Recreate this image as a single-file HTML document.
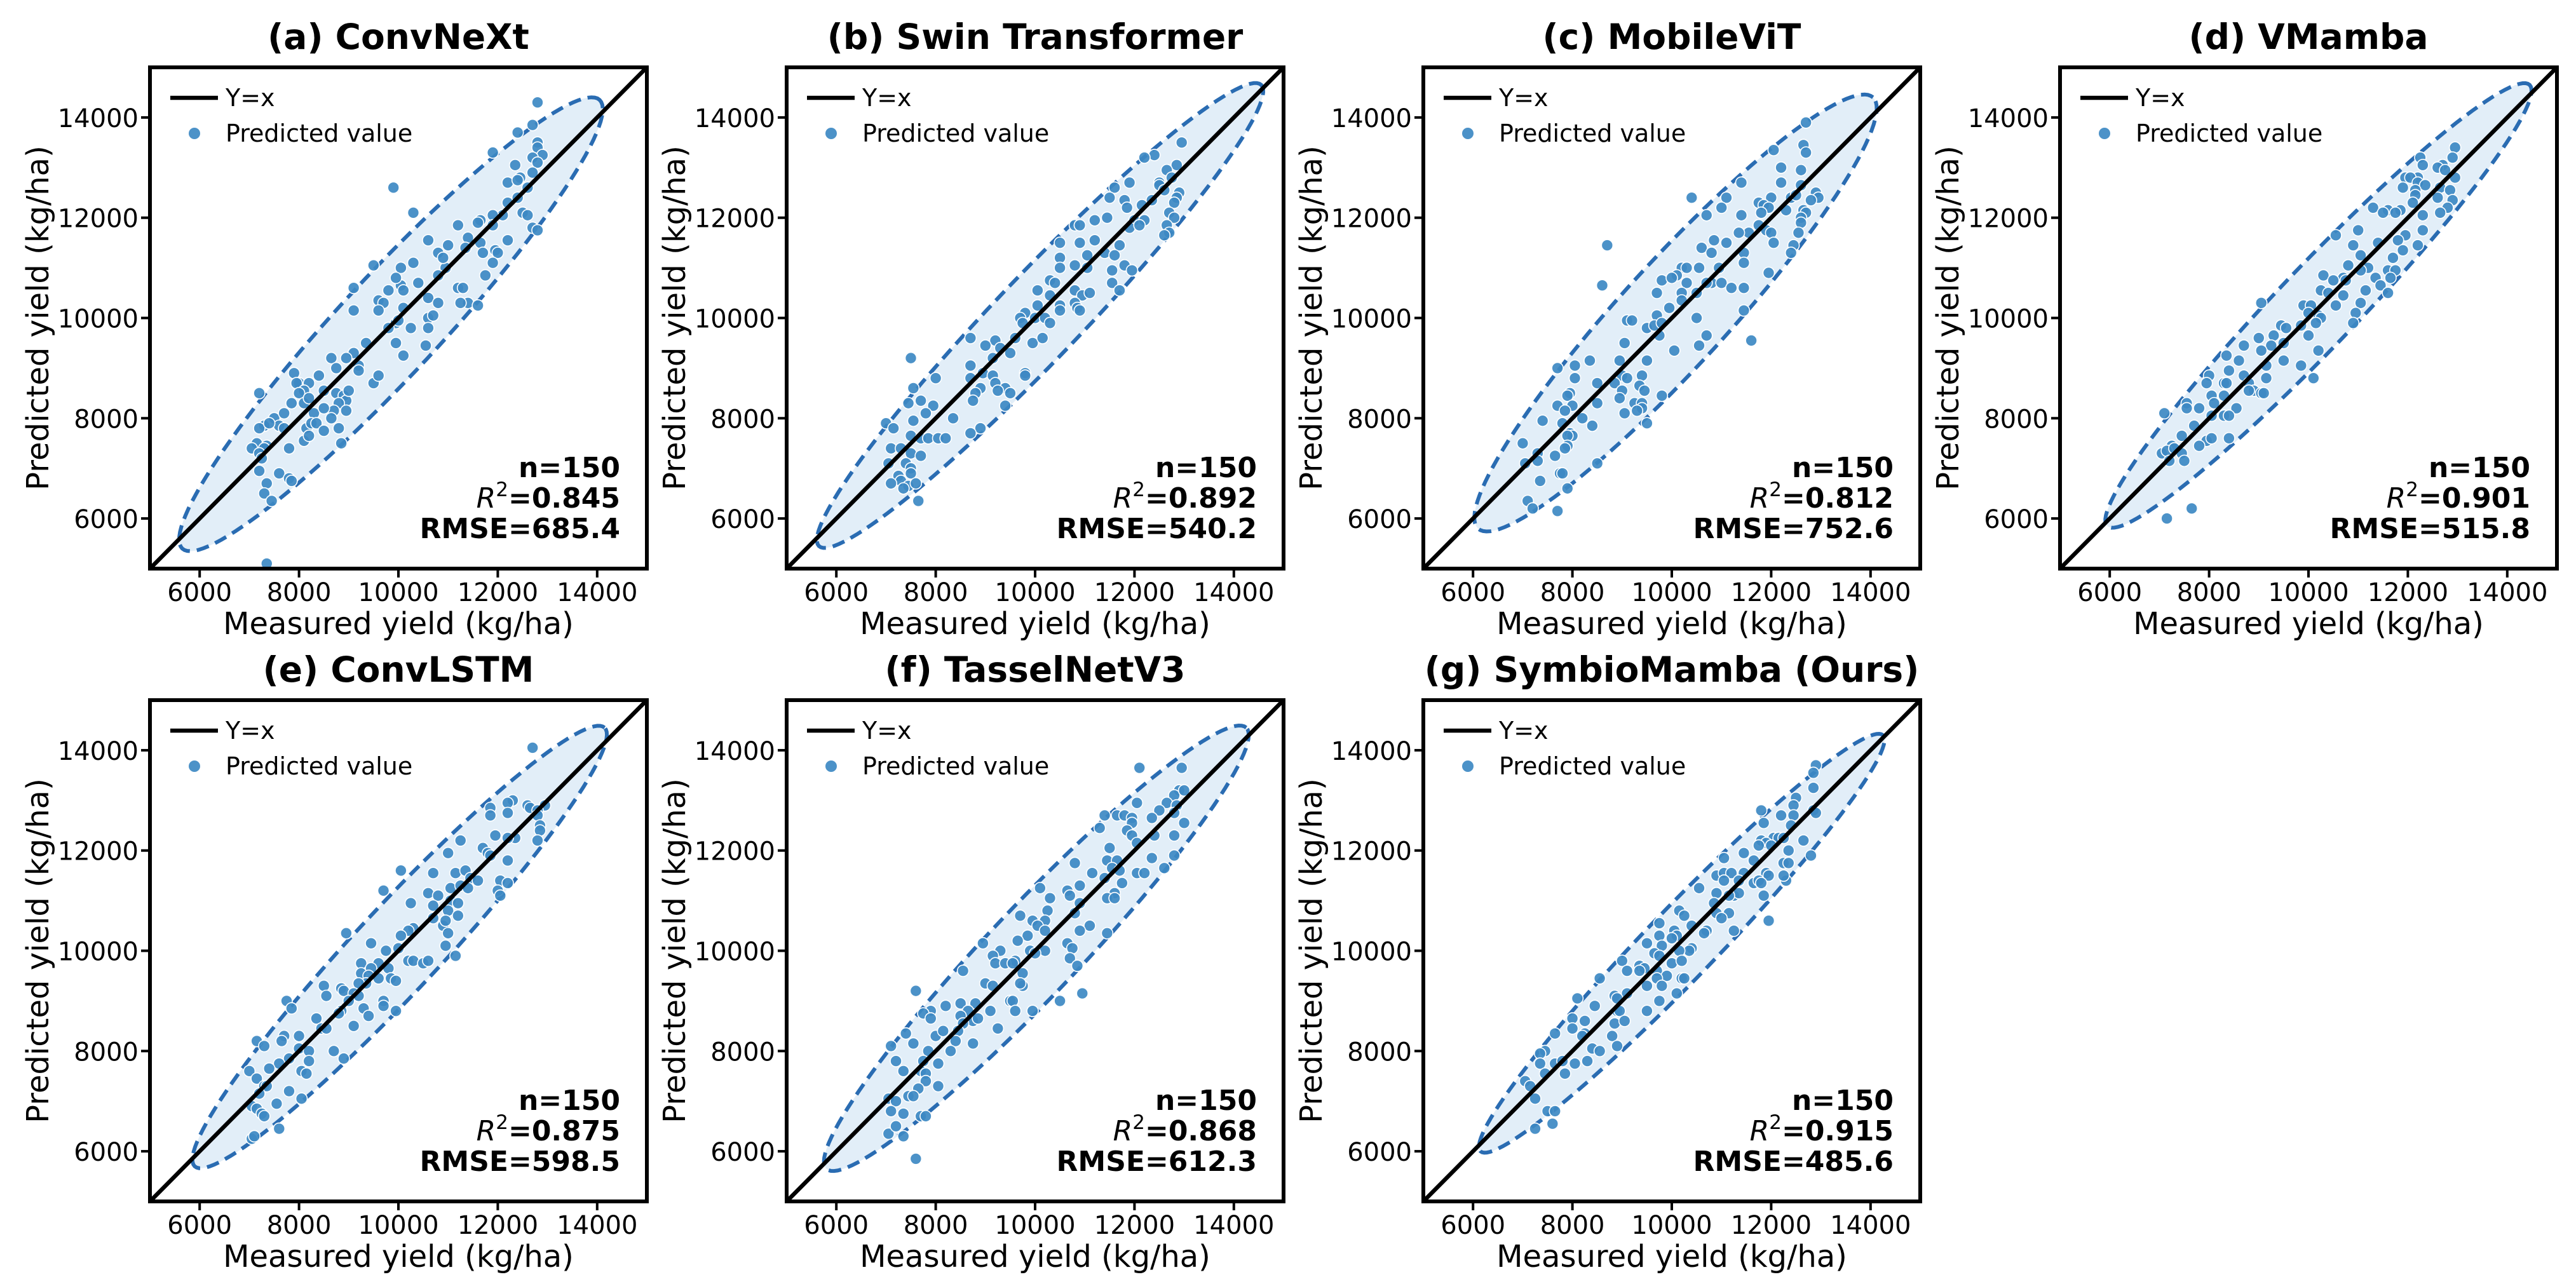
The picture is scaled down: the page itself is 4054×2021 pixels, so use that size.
<!DOCTYPE html>
<html><head><meta charset="utf-8"><title>Measured vs predicted yield for seven models</title>
<style>
html,body{margin:0;padding:0;background:#fff;}
svg{display:block;font-family:"DejaVu Sans","Liberation Sans",sans-serif;}
</style></head>
<body>
<svg id="fig" width="4054" height="2021" viewBox="0 0 4054 2021" xmlns="http://www.w3.org/2000/svg"></svg>
<script>
const tickValues = [6000, 8000, 10000, 12000, 14000];
const panelTitles = ["(a) ConvNeXt","(b) Swin Transformer","(c) MobileViT","(d) VMamba","(e) ConvLSTM","(f) TasselNetV3","(g) SymbioMamba (Ours)"];
const r2Values = ["0.845","0.892","0.812","0.901","0.875","0.868","0.915"];
const rmseValues = ["685.4","540.2","752.6","515.8","598.5","612.3","485.6"];
const sampleCounts = [150,150,150,150,150,150,150];
// ellipse: lower tip, upper tip, half-width (data units)
const ellipseTips = [
 [5650,5400,14050,14350],[5650,5450,14550,14650],[6100,5800,14050,14400],[5950,5850,14450,14650],
 [5900,5700,14150,14450],[5800,5650,14250,14450],[6150,6000,14250,14300]];
const ellipseWidths = [1000,850,1050,800,850,900,700];

const pointsA = [[12800,14300],[12700,13850],[12400,13700],[12800,13500],[12800,13400],[11900,13300],[12900,13250],[12700,13200],[12800,13100],[12350,13050],[12200,12700],[12450,12800],[12400,12750],[12700,12900],[9900,12600],[12600,12600],[10300,12100],[12200,12300],[12400,12400],[12500,12100],[12100,12050],[12600,12050],[11900,12050],[11650,11950],[11600,11900],[11200,11850],[12700,11800],[12800,11750],[11900,11850],[12200,11550],[10600,11550],[11400,11600],[11650,11500],[11950,11350],[12000,11300],[11900,11100],[11350,11400],[10800,11300],[11000,11450],[11700,11300],[9500,11050],[10300,11100],[10050,11000],[10950,11000],[10800,10850],[10400,10700],[11750,10850],[10900,11200],[9100,10600],[10050,10650],[10100,10550],[9950,10800],[9800,10550],[11200,10600],[11300,10600],[10600,10400],[10800,10300],[11400,10300],[11250,10300],[11600,10250],[9600,10350],[9700,10300],[9100,10150],[9600,10150],[10100,10200],[10600,10000],[10700,10050],[9950,9900],[10000,9950],[9800,9800],[10250,9800],[10600,9800],[9350,9500],[9950,9500],[10550,9450],[10100,9250],[9500,8700],[9600,8850],[9100,9300],[9200,9050],[8950,9200],[8650,9200],[8750,9000],[9200,8950],[8750,8500],[8900,8450],[8950,8350],[8800,8300],[9000,8550],[8950,8150],[8700,8150],[7900,8900],[8000,8700],[7950,8700],[8200,8700],[8400,8850],[8100,8550],[8000,8500],[7850,8300],[8100,8300],[8200,8400],[8500,8550],[8300,8100],[8500,8200],[8650,8000],[7500,8000],[7700,8100],[7600,7850],[7700,7800],[8150,7800],[8800,7800],[8250,7900],[8350,7900],[7300,7850],[7200,7800],[7400,7900],[8500,7750],[8100,7550],[8200,7650],[8850,7500],[7150,7500],[7350,7450],[7300,7400],[7050,7400],[7200,7300],[7800,7400],[7250,7200],[7200,6950],[7600,6900],[7800,6800],[7350,6700],[7300,6500],[7450,6350],[7200,8500],[7350,5100],[7850,6750]];
const pointsB = [[12950,13500],[12400,13250],[12200,13200],[12850,13050],[12650,12950],[11900,12700],[11600,12600],[12500,12700],[12500,12650],[12750,12800],[12600,12550],[11500,12400],[11800,12350],[12900,12500],[12850,12400],[12350,12350],[12800,12300],[12150,12250],[11850,12200],[12700,12100],[12800,12000],[11450,12000],[11200,11950],[12000,11950],[12200,11950],[10800,11850],[10900,11850],[11900,11800],[12100,11850],[12650,11850],[12700,11700],[12600,11650],[10500,11500],[10900,11500],[11200,11550],[11700,11450],[11400,11300],[11600,11250],[11050,11250],[10500,11200],[11800,11050],[10800,11050],[10500,11000],[11550,10950],[11950,10950],[11050,11000],[10300,10750],[10400,10700],[11550,10700],[10800,10550],[11700,10550],[10950,10450],[11100,10500],[10050,10550],[10300,10450],[10800,10300],[10500,10250],[10500,10150],[10850,10200],[10900,10150],[10050,10250],[9800,10100],[9700,10000],[9750,9900],[10000,10000],[10200,10000],[10300,9900],[9950,9500],[10150,9600],[9600,9600],[9200,9550],[9000,9450],[8700,9600],[9300,9400],[9500,9300],[9150,9200],[7500,9200],[8700,9050],[8950,8900],[9800,8900],[9800,8850],[9150,8850],[8000,8800],[8700,8800],[9200,8700],[8900,8600],[8800,8500],[9400,8600],[9250,8550],[9500,8500],[8750,8350],[9400,8250],[7550,8600],[7450,8300],[7700,8350],[7950,8250],[7800,8100],[7550,7950],[8350,8000],[8900,7800],[8700,7700],[7000,7900],[7150,7800],[7500,7650],[7700,7600],[7850,7600],[8050,7600],[8200,7600],[7100,7400],[7300,7400],[7500,7300],[7700,7250],[7050,7100],[7400,7100],[7500,7000],[7250,6850],[7300,6750],[7500,6900],[7100,6700],[7450,6650],[7600,6700],[7350,6600],[7650,6350]];
const pointsC = [[12700,13900],[12050,13350],[12650,13450],[12700,13300],[12200,13000],[12600,12950],[11400,12700],[12200,12700],[12600,12650],[10400,12400],[11100,12400],[12000,12400],[12400,12400],[12500,12450],[12900,12500],[12950,12400],[12800,12350],[11000,12200],[11750,12300],[11850,12250],[11950,12200],[12300,12150],[12650,12150],[12700,12100],[12600,12000],[10700,12050],[11400,12050],[11800,12100],[12600,11900],[11750,11850],[11900,11750],[12000,11700],[12550,11700],[11550,11700],[11350,11700],[10850,11550],[11100,11500],[12050,11500],[8700,11450],[10600,11400],[12450,11450],[12400,11300],[10800,11300],[11450,11300],[11450,11100],[10200,11000],[10300,11000],[10550,11000],[10950,11000],[11950,10900],[10100,10850],[9800,10750],[10000,10800],[10800,10700],[10700,10700],[10300,10700],[11000,10700],[8600,10650],[11200,10600],[11450,10600],[9700,10500],[10200,10500],[10500,10500],[10200,10350],[9950,10200],[11450,10150],[9700,10050],[10500,10000],[9100,9950],[9200,9950],[9500,9800],[9650,9850],[9800,9900],[9750,9650],[10700,9650],[11600,9550],[9050,9500],[10550,9450],[10050,9350],[8350,9150],[8950,9150],[9500,9150],[7700,9000],[8050,9050],[8050,8800],[9000,8850],[9100,8800],[9400,8850],[8500,8700],[8850,8700],[9350,8650],[9000,8550],[9450,8550],[7950,8500],[7900,8450],[9800,8450],[8950,8400],[9250,8300],[9400,8300],[8000,8250],[8500,8300],[7700,8250],[7850,8150],[9400,8200],[9300,8150],[9050,8100],[7400,7950],[8200,8000],[7800,7900],[8400,7850],[9500,7900],[7950,7700],[8000,7650],[7900,7650],[7000,7500],[7900,7450],[7850,7400],[7300,7300],[7650,7250],[7050,7100],[7300,7150],[8500,7100],[7750,6900],[7800,6900],[7350,6750],[7900,6600],[7100,6350],[7200,6200],[7700,6150]];
const pointsD = [[12950,13400],[12250,13200],[12900,13200],[12700,13050],[12300,13050],[12200,12800],[11950,12800],[12050,12800],[12600,13000],[12750,12950],[12950,12800],[12200,12700],[12350,12650],[11900,12600],[12150,12550],[12650,12600],[12850,12550],[12150,12450],[12600,12400],[12900,12350],[12100,12300],[12800,12200],[11300,12200],[11600,12150],[11850,12150],[11750,12100],[12650,12100],[11500,12100],[12300,12050],[11000,11750],[12300,11750],[10550,11650],[11950,11650],[11800,11550],[11400,11500],[10900,11450],[12200,11450],[11900,11350],[11050,11250],[11200,11000],[11700,11200],[10800,11050],[10700,10800],[10750,10750],[11050,10950],[11600,10950],[11750,10950],[10300,10850],[10500,10750],[11350,10800],[11650,10800],[11150,10550],[10250,10550],[11450,10650],[10400,10500],[10700,10450],[11600,10500],[10550,10250],[11050,10300],[9050,10300],[9900,10250],[10050,10250],[10200,10050],[10950,10100],[10000,10100],[10250,10000],[10150,9900],[10900,9900],[9450,9850],[9550,9800],[9850,9850],[9000,9600],[9300,9650],[10000,9650],[9500,9500],[9250,9450],[9050,9350],[8700,9450],[10200,9350],[9500,9150],[8600,9150],[9850,9050],[8350,9250],[9150,9050],[8400,8950],[8700,8850],[8000,8850],[7950,8700],[8300,8700],[8350,8700],[10100,8800],[9150,8800],[8800,8700],[8900,8550],[8800,8550],[9050,8500],[9100,8500],[8050,8450],[8300,8450],[8100,8300],[7550,8300],[7550,8200],[7800,8200],[8550,8200],[7100,8100],[8050,8050],[8300,8050],[8400,8050],[7700,7850],[7450,7650],[7950,7550],[8050,7600],[8400,7600],[7250,7450],[7800,7450],[7050,7300],[7150,7350],[7300,7400],[7450,7300],[7200,7150],[7500,7150],[7650,6200],[7150,6000]];
const pointsE = [[12700,14050],[12300,13000],[12200,12950],[12600,12900],[12650,12850],[12950,12900],[11850,12850],[12800,12800],[12800,12700],[11850,12700],[12200,12750],[12850,12500],[11950,12300],[12850,12400],[12350,12250],[12200,12250],[12800,12200],[11250,12200],[11700,12050],[11800,11950],[11000,11950],[11850,11900],[12200,11800],[10050,11600],[11150,11550],[11350,11600],[10700,11550],[9700,11200],[11450,11450],[11600,11400],[12050,11400],[12200,11350],[11050,11250],[11250,11300],[10600,11150],[10800,11100],[11400,11250],[12000,11200],[10700,10900],[11050,11000],[11200,10950],[12050,11100],[10250,10950],[11000,10800],[10700,10650],[10900,10500],[10950,10600],[11200,10700],[10300,10450],[10200,10400],[11000,10350],[10050,10300],[10950,10100],[8950,10350],[9450,10150],[9750,10000],[10000,10050],[11150,9900],[10200,9800],[10300,9800],[10500,9750],[10600,9800],[9250,9750],[9600,9750],[9450,9650],[9800,9650],[9250,9550],[9400,9500],[9850,9450],[9950,9400],[9600,9450],[9350,9350],[9200,9350],[8500,9300],[8850,9250],[8900,9200],[9100,9150],[9200,9100],[9700,9000],[9700,8900],[7750,9000],[8550,9100],[7850,8850],[9000,9000],[8850,8800],[8800,8750],[9300,8850],[9950,8800],[9400,8700],[8350,8650],[8450,8450],[8550,8450],[9100,8500],[8000,8300],[7700,8300],[7650,8200],[7150,8200],[7300,8100],[8000,8050],[8200,8000],[8700,8000],[8900,7850],[8200,7800],[7800,7850],[7600,7750],[8050,7600],[8150,7550],[7400,7650],[7000,7600],[7150,7450],[7300,7300],[7350,7300],[7200,7150],[7800,7200],[8050,7050],[7550,6950],[7050,6900],[7150,6850],[7250,6750],[7300,6700],[7600,6450],[7050,6250],[7100,6300]];
const pointsF = [[12100,13650],[12950,13650],[12900,13200],[12800,13100],[13000,13200],[12650,12950],[12050,12950],[12850,12900],[12500,12800],[12800,12750],[11400,12700],[11650,12700],[11800,12700],[11950,12650],[12350,12650],[11950,12550],[13000,12550],[11300,12450],[11850,12400],[11950,12300],[12400,12300],[12800,12300],[11500,12050],[12050,12150],[12800,11900],[12350,11850],[11450,11800],[11650,11800],[10800,11750],[11550,11650],[11700,11600],[12600,11650],[12050,11550],[12200,11550],[11150,11550],[11400,11450],[11750,11350],[10100,11250],[10650,11200],[10700,11100],[10900,11300],[11600,11150],[10300,11050],[11450,11050],[11600,11050],[10900,10950],[10250,10800],[10800,10750],[9700,10700],[10200,10600],[9950,10600],[10050,10500],[11100,10500],[10900,10400],[11450,10350],[10200,10400],[9850,10300],[9650,10200],[8950,10150],[10650,10150],[10750,10050],[9300,10000],[9900,10000],[10200,10000],[10000,9950],[10700,9850],[9150,9900],[9600,9800],[9200,9750],[9400,9750],[9550,9750],[10850,9700],[8550,9600],[9750,9550],[9000,9350],[9150,9300],[9750,9300],[9700,9350],[7600,9200],[10950,9150],[9500,9000],[9550,9000],[10500,9000],[8500,8950],[8800,8950],[8200,8900],[9100,8800],[9600,8800],[9950,8800],[7900,8800],[7750,8750],[8650,8800],[8500,8700],[8750,8600],[8850,8650],[8550,8550],[7900,8650],[9250,8450],[7400,8350],[8000,8300],[8150,8400],[8450,8400],[8400,8200],[7550,8150],[7100,8100],[8750,8150],[8300,8000],[7850,8000],[7200,7800],[8050,7750],[7750,7800],[7700,7600],[7800,7550],[7350,7600],[7800,7400],[8050,7300],[7650,7250],[7050,7050],[7450,7100],[7550,7100],[7200,7000],[7350,6750],[7100,6800],[7700,6700],[7800,6700],[7050,6350],[7200,6500],[7350,6300],[7600,5850]];
const pointsG = [[12900,13700],[12850,13550],[12850,13250],[12500,13050],[12450,12900],[11800,12800],[12200,12700],[12850,12800],[12900,12750],[11850,12550],[12450,12700],[12400,12500],[11800,12200],[12650,12200],[12050,12250],[12150,12250],[12250,12250],[11900,12150],[12000,12100],[11750,12100],[12350,12000],[11450,11950],[12800,11900],[11050,11850],[11650,11800],[12250,11750],[12350,11750],[10900,11500],[11050,11550],[11200,11550],[11450,11550],[11900,11550],[11950,11500],[10550,11250],[11650,11350],[11750,11400],[11800,11350],[12300,11400],[12250,11500],[11050,11400],[11350,11400],[10900,11150],[11250,11100],[11350,11150],[11150,11100],[11850,11100],[10850,10950],[10150,10800],[10250,10700],[10900,10750],[11150,10750],[11000,10650],[11950,10600],[10400,10500],[9750,10550],[10700,10400],[10050,10400],[10650,10350],[11250,10400],[10100,10300],[9750,10300],[9500,10150],[10000,10250],[9800,10100],[10400,10050],[10350,10000],[10150,10000],[9650,9950],[9750,9900],[10000,9750],[10200,9800],[9000,9800],[9350,9700],[9450,9650],[9350,9600],[9700,9600],[9900,9500],[10200,9450],[10250,9450],[9100,9600],[9700,9450],[8550,9450],[9500,9300],[9800,9300],[8850,9100],[9100,9150],[10100,9150],[8900,9050],[9750,9000],[8100,9050],[8450,8900],[9500,8800],[8900,8800],[8950,8800],[8000,8650],[8250,8600],[8850,8550],[9050,8600],[8000,8450],[8250,8350],[8800,8300],[7650,8350],[8200,8300],[8400,8050],[7450,8000],[8550,8000],[7350,7950],[8900,8100],[7350,7750],[8300,7800],[7650,7750],[7800,7800],[8050,7750],[7450,7550],[7850,7550],[7050,7400],[7150,7300],[7250,7050],[7500,6800],[7650,6800],[7250,6450],[7600,6550]];
const allPoints = [pointsA,pointsB,pointsC,pointsD,pointsE,pointsF,pointsG];

const NS = "http://www.w3.org/2000/svg";
const fig = document.getElementById('fig');
const colLeft = [236,1238,2240,3242];
const rowTop = [106,1102];
const W = 782, H = 789;
const DMIN = 5000, DMAX = 15000;

function el(tag, attrs, parent){
  const e = document.createElementNS(NS, tag);
  for (const k in attrs) e.setAttribute(k, attrs[k]);
  parent.appendChild(e);
  return e;
}

for (let p = 0; p < 7; p++) {
  const L = colLeft[p % 4], T = rowTop[p < 4 ? 0 : 1];
  const xs = v => L + (v - DMIN) / (DMAX - DMIN) * W;
  const ys = v => T + H - (v - DMIN) / (DMAX - DMIN) * H;
  const g = el('g', {}, fig);
  
  

  const clipId = 'clip' + p;
  const cp = el('clipPath', {id: clipId}, g);
  el('rect', {x: L, y: T, width: W, height: H}, cp);
  const plot = el('g', {'clip-path': 'url(#' + clipId + ')'}, g);

  const [x1,y1,x2,y2] = ellipseTips[p];
  const cx = (x1+x2)/2, cy = (y1+y2)/2;
  const dx = x2-x1, dy = y2-y1, len = Math.hypot(dx,dy);
  const ux = dx/len, uy = dy/len, a = len/2, b = ellipseWidths[p];
  let d = '';
  for (let i = 0; i <= 120; i++) {
    const t = i/120*2*Math.PI;
    const px = cx + a*Math.cos(t)*ux - b*Math.sin(t)*uy;
    const py = cy + a*Math.cos(t)*uy + b*Math.sin(t)*ux;
    d += (i ? 'L' : 'M') + xs(px).toFixed(1) + ' ' + ys(py).toFixed(1);
  }
  const ell = el('path', {d: d + 'Z', fill: '#e2eef8', stroke: '#2a6cb2', 'stroke-width': 6, 'stroke-dasharray': '20 11'}, plot);
  
  

  allPoints[p].forEach(pt => {
    const c = el('circle', {cx: xs(pt[0]), cy: ys(pt[1]), r: 9, fill: '#3d89c3', 'fill-opacity': 0.92, stroke: '#fff', 'stroke-width': 1.6}, plot);
    
    
  });

  const ln = el('line', {x1: xs(DMIN), y1: ys(DMIN), x2: xs(DMAX), y2: ys(DMAX), stroke: '#000', 'stroke-width': 6.5}, plot);
  
  

  const fr = el('rect', {x: L, y: T, width: W, height: H, fill: 'none', stroke: '#000', 'stroke-width': 6}, g);
  
  

  tickValues.forEach(v => {
    el('line', {x1: xs(v), y1: T+H, x2: xs(v), y2: T+H+14, stroke: '#000', 'stroke-width': 4}, g);
    const tx = el('text', {x: xs(v), y: T+H+51, 'font-size': 40, 'text-anchor': 'middle'}, g);
    tx.textContent = v;
    
    
    el('line', {x1: L-14, y1: ys(v), x2: L, y2: ys(v), stroke: '#000', 'stroke-width': 4}, g);
    const ty = el('text', {x: L-18, y: ys(v)+15, 'font-size': 40, 'text-anchor': 'end'}, g);
    ty.textContent = v;
    
    
  });

  const xl = el('text', {x: L+W/2, y: T+H+103, 'font-size': 48, 'text-anchor': 'middle'}, g);
  xl.textContent = 'Measured yield (kg/ha)';
  
  
  const yl = el('text', {x: 0, y: 0, 'font-size': 48, 'text-anchor': 'middle', transform: 'translate(' + (L-160) + ',' + (T+H/2) + ') rotate(-90)'}, g);
  yl.textContent = 'Predicted yield (kg/ha)';
  
  

  const tt = el('text', {x: L+W/2, y: T-29, 'font-size': 55, 'font-weight': 'bold', 'text-anchor': 'middle'}, g);
  tt.textContent = panelTitles[p];
  
  

  const lg = el('g', {}, g);
  
  
  el('line', {x1: L+32, y1: T+48, x2: L+107, y2: T+48, stroke: '#000', 'stroke-width': 6.5}, lg);
  const l1 = el('text', {x: L+119, y: T+61, 'font-size': 38}, lg);
  l1.textContent = 'Y=x';
  
  
  el('circle', {cx: L+70, cy: T+104, r: 9, fill: '#3d89c3', 'fill-opacity': 0.92}, lg);
  const l2 = el('text', {x: L+119, y: T+117, 'font-size': 38}, lg);
  l2.textContent = 'Predicted value';
  
  

  const R = L + W - 42;
  const s1 = el('text', {x: R, y: T+H-144, 'font-size': 44, 'font-weight': 'bold', 'text-anchor': 'end'}, g);
  s1.textContent = 'n=' + sampleCounts[p];
  
  
  const s2 = el('text', {x: R, y: T+H-96, 'font-size': 44, 'font-weight': 'bold', 'text-anchor': 'end'}, g);
  s2.innerHTML = '<tspan font-style="italic" font-weight="normal">R</tspan><tspan font-weight="normal" font-size="31" dy="-18">2</tspan><tspan dy="18">=' + r2Values[p] + '</tspan>';
  
  
  const s3 = el('text', {x: R, y: T+H-48, 'font-size': 44, 'font-weight': 'bold', 'text-anchor': 'end'}, g);
  s3.textContent = 'RMSE=' + rmseValues[p];
  
  
}
</script>
</body></html>
